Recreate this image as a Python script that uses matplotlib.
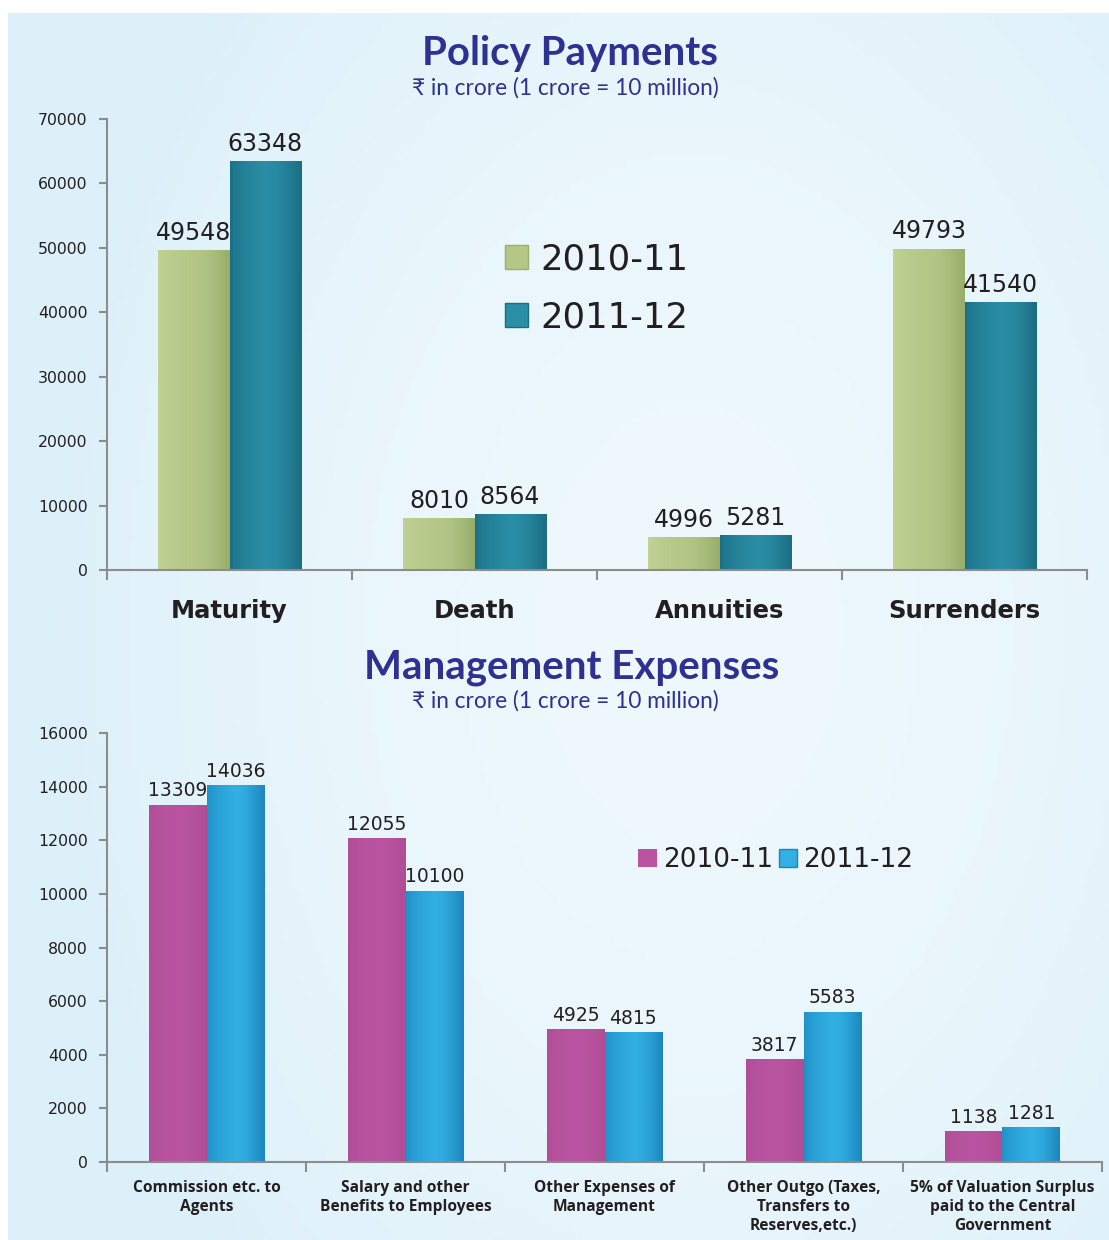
import numpy as np
import matplotlib
matplotlib.use('Agg')
import matplotlib.pyplot as plt
import matplotlib.patches as mpatches

# Data
pay_categories = ['Maturity', 'Death', 'Annuities', 'Surrenders']
pay_2010 = [49548, 8010, 4996, 49793]
pay_2011 = [63348, 8564, 5281, 41540]

exp_categories = ['Commission etc. to\nAgents',
                  'Salary and other\nBenefits to Employees',
                  'Other Expenses of\nManagement',
                  'Other Outgo (Taxes,\nTransfers to\nReserves,etc.)',
                  '5% of Valuation Surplus\npaid to the Central\nGovernment']
exp_2010 = [13309, 12055, 4925, 3817, 1138]
exp_2011 = [14036, 10100, 4815, 5583, 1281]

years = ['2010-11', '2011-12']

title_color = '#2e3192'
text_color = '#231f20'
axis_color = '#8c8c8c'

# colour ramps for the bars (left edge, middle, right edge)
green_ramp = ['#c2d396', '#b4c787', '#97ad68']
teal_ramp = ['#1b6f85', '#2a8ea6', '#1c6d82']
magenta_ramp = ['#b14e98', '#ba54a0', '#b04d97']
blue_ramp = ['#1f8fc6', '#32afe3', '#1c86bd']


def hex_rgb(h):
    return np.array(matplotlib.colors.to_rgb(h))


def ramp_image(ramp, n=60):
    t = np.linspace(0, 1, n)
    c0, c1, c2 = [hex_rgb(c) for c in ramp]
    img = np.zeros((1, n, 3))
    for i, v in enumerate(t):
        if v < 0.5:
            img[0, i] = c0 + (c1 - c0) * (v / 0.5) ** 0.6
        else:
            img[0, i] = c1 + (c2 - c1) * ((v - 0.5) / 0.5) ** 1.6
    return img


def gradient_bars(ax, bars, ramp):
    img = ramp_image(ramp)
    for b in bars:
        x0 = b.get_x()
        h = b.get_height()
        ax.imshow(img, extent=(x0, x0 + b.get_width(), 0, h),
                  aspect='auto', zorder=2, interpolation='bicubic')
        b.set_alpha(0)


fig = plt.figure(figsize=(11.09, 12.4), dpi=100)

# background panel
bg = fig.add_axes([8 / 1109, 0, 1 - 8 / 1109, 1 - 13 / 1240], zorder=-10)
yy, xx = np.mgrid[0:1:200j, 0:1:200j]
c_edge = hex_rgb('#dcf0f9')
c_mid = hex_rgb('#eef8fd')
w = np.clip(1 - ((xx - 0.62) ** 2 / 0.35 + (yy - 0.5) ** 2 / 0.6), 0, 1)
bg_img = c_edge[None, None, :] + (c_mid - c_edge)[None, None, :] * w[:, :, None]
bg.imshow(bg_img, aspect='auto', extent=(0, 1, 0, 1))
bg.set_axis_off()

bar_w = 0.29

# ---------- Policy Payments ----------
ax1 = fig.add_axes([107 / 1109, 1 - 570 / 1240, 980 / 1109, 451 / 1240])
ax1.patch.set_alpha(0)
x1 = np.arange(len(pay_categories))
b1 = ax1.bar(x1 - bar_w / 2, pay_2010, bar_w, color=green_ramp[1], zorder=2)
b2 = ax1.bar(x1 + bar_w / 2, pay_2011, bar_w, color=teal_ramp[1], zorder=2)
gradient_bars(ax1, b1, green_ramp)
gradient_bars(ax1, b2, teal_ramp)
for bars, vals in ((b1, pay_2010), (b2, pay_2011)):
    for b, v in zip(bars, vals):
        ax1.text(b.get_x() + b.get_width() / 2, v + 900, str(v),
                 ha='center', va='bottom', fontsize=17, color=text_color)

ax1.set_xlim(-0.5, len(pay_categories) - 0.5)
ax1.set_ylim(0, 70000)
ax1.set_yticks(np.arange(0, 70001, 10000))
ax1.set_xticks(np.arange(-0.5, len(pay_categories)), labels=[])
ax1.set_xticks(x1, labels=pay_categories, minor=True)
ax1.tick_params(axis='x', which='major', length=7, width=1.5, color=axis_color, direction='out')
ax1.tick_params(axis='x', which='minor', length=0, pad=21, labelsize=17.5,
                labelcolor=text_color)
for lab in ax1.get_xticklabels(minor=True):
    lab.set_fontweight('bold')
ax1.tick_params(axis='y', length=6, width=1.5, color=axis_color, labelsize=11.3,
                labelcolor=text_color, pad=8)
for s in ('top', 'right'):
    ax1.spines[s].set_visible(False)
for s in ('left', 'bottom'):
    ax1.spines[s].set_color(axis_color)
    ax1.spines[s].set_linewidth(1.5)

h1 = [mpatches.Patch(facecolor=green_ramp[1], edgecolor='#9bb06a', label=years[0]),
      mpatches.Patch(facecolor=teal_ramp[1], edgecolor='#1c6d82', label=years[1])]
ax1.legend(handles=h1, loc='upper left', bbox_to_anchor=(0.374, 0.797), frameon=False,
           fontsize=25.5, labelspacing=0.68, handlelength=0.65, handleheight=0.65,
           handletextpad=0.35, labelcolor=text_color)

fig.text(0.514, 1 - 54 / 1240, 'Policy Payments', ha='center', va='center',
         fontsize=29, fontweight='bold', color=title_color, family=['Lato', 'DejaVu Sans'])
fig.text(0.510, 1 - 88 / 1240, '\u20b9 in crore (1 crore = 10 million)', ha='center',
         va='center', fontsize=16.3, color=title_color, family=['Lato', 'DejaVu Sans'])

# ---------- Management Expenses ----------
ax2 = fig.add_axes([107 / 1109, 1 - 1162 / 1240, 995 / 1109, 429 / 1240])
ax2.patch.set_alpha(0)
x2 = np.arange(len(exp_categories))
c1 = ax2.bar(x2 - bar_w / 2, exp_2010, bar_w, color=magenta_ramp[1], zorder=2)
c2 = ax2.bar(x2 + bar_w / 2, exp_2011, bar_w, color=blue_ramp[1], zorder=2)
gradient_bars(ax2, c1, magenta_ramp)
gradient_bars(ax2, c2, blue_ramp)
for bars, vals in ((c1, exp_2010), (c2, exp_2011)):
    for b, v in zip(bars, vals):
        ax2.text(b.get_x() + b.get_width() / 2, v + 180, str(v),
                 ha='center', va='bottom', fontsize=13.5, color=text_color)

ax2.set_xlim(-0.5, len(exp_categories) - 0.5)
ax2.set_ylim(0, 16000)
ax2.set_yticks(np.arange(0, 16001, 2000))
ax2.set_xticks(np.arange(-0.5, len(exp_categories)), labels=[])
ax2.set_xticks(x2, labels=exp_categories, minor=True)
ax2.tick_params(axis='x', which='major', length=7, width=1.5, color=axis_color, direction='out')
ax2.tick_params(axis='x', which='minor', length=0, pad=13, labelsize=11.2,
                labelcolor=text_color)
for lab in ax2.get_xticklabels(minor=True):
    lab.set_fontweight('bold')
    lab.set_family(['Open Sans', 'DejaVu Sans'])
    lab.set_verticalalignment('top')
    lab.set_linespacing(1.25)
ax2.tick_params(axis='y', length=6, width=1.5, color=axis_color, labelsize=11.3,
                labelcolor=text_color, pad=8)
for s in ('top', 'right'):
    ax2.spines[s].set_visible(False)
for s in ('left', 'bottom'):
    ax2.spines[s].set_color(axis_color)
    ax2.spines[s].set_linewidth(1.5)

h2 = [mpatches.Patch(facecolor=magenta_ramp[1], edgecolor='none', label=years[0]),
      mpatches.Patch(facecolor=blue_ramp[1], edgecolor='#1c86bd', label=years[1])]
ax2.legend(handles=h2, loc='center left', bbox_to_anchor=(0.51, 0.704), frameon=False,
           fontsize=19, ncol=2, columnspacing=0.2, handlelength=0.7, handleheight=0.7,
           handletextpad=0.25, labelcolor=text_color)

fig.text(0.515, 1 - 667 / 1240, 'Management Expenses', ha='center', va='center',
         fontsize=29, fontweight='bold', color=title_color, family=['Lato', 'DejaVu Sans'])
fig.text(0.510, 1 - 701 / 1240, '\u20b9 in crore (1 crore = 10 million)', ha='center',
         va='center', fontsize=16.3, color=title_color, family=['Lato', 'DejaVu Sans'])

fig.savefig('out.png', dpi=100)
